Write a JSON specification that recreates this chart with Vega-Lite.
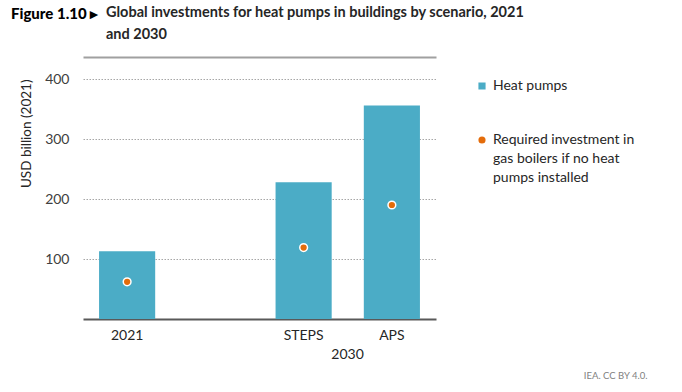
{
  "$schema": "https://vega.github.io/schema/vega-lite/v6.json",
  "width": 353,
  "height": 240,
  "autosize": {"type": "none"},
  "padding": {"left": 83, "top": 79, "right": 246, "bottom": 73},
  "background": "white",
  "config": {"font": "Lato", "view": {"stroke": null}, "style": {"guide-label": {"lineHeight": 19}}},
  "title": {
    "text": "Figure 1.10 ▸",
    "subtitle": ["Global investments for heat pumps in buildings by scenario, 2021", "and 2030"],
    "anchor": "start",
    "frame": "group",
    "font": "Lato",
    "fontSize": 15,
    "fontWeight": 900,
    "color": "#000000",
    "subtitleFont": "Lato",
    "subtitleFontSize": 14.5,
    "subtitleFontWeight": "bold",
    "subtitleColor": "#262626",
    "subtitleLineHeight": 22,
    "subtitlePadding": -16,
    "dx": 23,
    "encoding": {"dx": {"value": -72}},
    "offset": 14
  },
  "data": {
    "values": [
      {"category": "2021", "series": "Heat pumps", "value": 113},
      {"category": "STEPS", "series": "Heat pumps", "value": 228},
      {"category": "APS", "series": "Heat pumps", "value": 356},
      {"category": "2021", "series": "Required investment in gas boilers if no heat pumps installed", "value": 62},
      {"category": "STEPS", "series": "Required investment in gas boilers if no heat pumps installed", "value": 119},
      {"category": "APS", "series": "Required investment in gas boilers if no heat pumps installed", "value": 190}
    ]
  },
  "resolve": {"axis": {"x": "independent", "y": "independent"}},
  "layer": [
    {
      "transform": [{"filter": "datum.series == 'Heat pumps'"}],
      "mark": {"type": "bar"},
      "encoding": {
        "x": {
          "field": "category",
          "type": "nominal",
          "sort": null,
          "scale": {"domain": ["2021", "gap", "STEPS", "APS"], "paddingInner": 0.364, "paddingOuter": 0.182},
          "axis": {
            "orient": "bottom",
            "domain": true,
            "domainColor": "#595959",
            "domainWidth": 2,
            "ticks": false,
            "grid": false,
            "labelAngle": 0,
            "labelPadding": 9,
            "labelFont": "Lato",
            "labelFontSize": 14,
            "labelColor": "#262626",
            "labelExpr": "datum.value == 'gap' ? '' : datum.value",
            "title": "2030",
            "titleX": 264,
            "titleY": 35,
            "titleFont": "Lato",
            "titleFontSize": 14,
            "titleFontWeight": "normal",
            "titleColor": "#262626",
            "titleBaseline": "middle",
            "titleAlign": "center"
          }
        },
        "y": {
          "field": "value",
          "type": "quantitative",
          "scale": {"domain": [0, 400]},
          "axis": {
            "orient": "left",
            "values": [100, 200, 300, 400],
            "domain": false,
            "ticks": false,
            "grid": true,
            "gridDash": [1.5, 1.5],
            "gridColor": "#a6a6a6",
            "gridWidth": 1,
            "labelPadding": 14,
            "labelFont": "Lato",
            "labelFontSize": 14,
            "labelColor": "#404040",
            "title": "USD billion (2021)",
            "titleX": -57,
            "titleY": 0,
            "titleAngle": 270,
            "titleAlign": "right",
            "titleBaseline": "middle",
            "titleFont": "Lato",
            "titleFontSize": 13.5,
            "titleFontWeight": "normal",
            "titleColor": "#262626"
          }
        },
        "color": {
          "field": "series",
          "type": "nominal",
          "scale": {
            "domain": ["Heat pumps", "Required investment in gas boilers if no heat pumps installed"],
            "range": ["#4bacc6", "#e46c0a"]
          },
          "legend": {
            "title": null,
            "orient": "none",
            "legendX": 392,
            "legendY": 0,
            "labelFont": "Lato",
            "labelFontSize": 14,
            "labelColor": "#262626",
            "labelBaseline": "middle",
            "labelOffset": 4,
            "symbolSize": 75,
            "rowPadding": 38,
            "labelExpr": "datum.label == 'Heat pumps' ? 'Heat pumps' : ['Required investment in', 'gas boilers if no heat', 'pumps installed']"
          }
        }
      }
    },
    {
      "transform": [{"filter": "datum.series != 'Heat pumps'"}],
      "mark": {"type": "point", "filled": true, "opacity": 1, "size": 60, "stroke": "white", "strokeWidth": 1.5},
      "encoding": {
        "x": {
          "field": "category",
          "type": "nominal",
          "sort": null,
          "axis": {
            "orient": "top",
            "offset": 22,
            "domain": true,
            "domainColor": "#a0a0a0",
            "domainWidth": 2,
            "labels": false,
            "ticks": false,
            "grid": false,
            "title": null
          }
        },
        "y": {
          "field": "value",
          "type": "quantitative",
          "axis": {
            "orient": "right",
            "domain": false,
            "ticks": false,
            "labels": false,
            "grid": false,
            "title": "IEA. CC BY 4.0.",
            "titleAngle": 0,
            "titleX": 211,
            "titleY": 296,
            "titleAlign": "right",
            "titleBaseline": "middle",
            "titleFont": "Lato",
            "titleFontSize": 9.5,
            "titleFontWeight": "normal",
            "titleColor": "#7f7f7f"
          }
        },
        "color": {"field": "series", "type": "nominal"},
        "shape": {
          "field": "series",
          "type": "nominal",
          "scale": {
            "domain": ["Heat pumps", "Required investment in gas boilers if no heat pumps installed"],
            "range": ["square", "circle"]
          }
        }
      }
    }
  ]
}
